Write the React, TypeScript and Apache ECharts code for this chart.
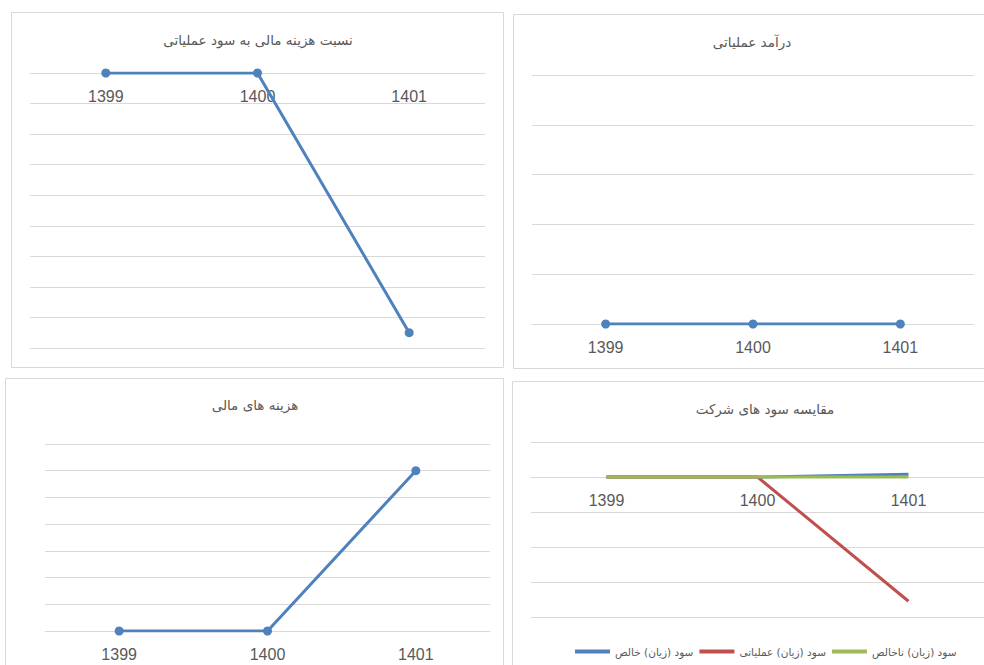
import React, { useEffect, useRef } from "react";
import * as echarts from "echarts";

const years = ["1399", "1400", "1401"];
const ratioFinCostToOpProfit = [0, 0, -0.85];
const operatingRevenue = [0, 0, 0];
const financialCosts = [0, 0, 6];
const netProfit = [0, 0, 0.08];
const operatingProfit = [0, 0, -3.55];
const grossProfit = [0, 0, 0];

const titles = [
  "نسبت هزینه مالی به سود عملیاتی",
  "درآمد عملیاتی",
  "هزینه های مالی",
  "مقایسه سود های شرکت",
];
const legendNames = ["سود (زیان) خالص", "سود (زیان) عملیاتی", "سود (زیان) ناخالص"];

const BLUE = "#4F81BD";
const RED = "#C0504D";
const GREEN = "#9BBB59";
const GRID_COLOR = "#D9D9D9";
const TEXT = "#595959";
const NUM_FONT = "'Liberation Sans', Arial, sans-serif";
const AR_FONT = "'DejaVu Sans', sans-serif";

export default function App() {
  const ref = useRef<HTMLDivElement>(null);
  useEffect(() => {
    if (!ref.current) return;
    const chart = echarts.init(ref.current, undefined, { renderer: "svg" });

    const H = 665;
    const grids = [
      { left: 30, right: 499, top: 73, bottom: 317 },
      { left: 532, right: 10, top: 75, bottom: 341 },
      { left: 45, right: 494, top: 444, bottom: 34 },
      { left: 531, right: -1, top: 442, bottom: 48 },
    ];
    const yRanges = [
      { min: -0.9, max: 0, interval: 0.1 },
      { min: 0, max: 1, interval: 0.2 },
      { min: 0, max: 7, interval: 1 },
      { min: -4, max: 1, interval: 1 },
    ];

    // place the category axis on the zero line of each panel (Excel style)
    const xAxis = grids.map((g, i) => {
      const r = yRanges[i];
      const gh = H - g.top - g.bottom;
      const zeroFrac = (0 - r.min) / (r.max - r.min);
      return {
        type: "category",
        gridIndex: i,
        data: years,
        boundaryGap: true,
        position: "bottom",
        offset: -zeroFrac * gh,
        axisLine: { show: true, onZero: false, lineStyle: { color: GRID_COLOR, width: 1 } },
        axisTick: { show: false },
        axisLabel: { color: TEXT, fontSize: 16, margin: 15, fontFamily: NUM_FONT },
      };
    });
    const yAxis = yRanges.map((r, i) => ({
      type: "value",
      gridIndex: i,
      min: r.min,
      max: r.max,
      interval: r.interval,
      axisLabel: { show: false },
      axisLine: { show: false },
      axisTick: { show: false },
      splitLine: { show: true, lineStyle: { color: GRID_COLOR, width: 1 } },
    }));

    const markerLine = (name: string, data: number[], idx: number) => ({
      type: "line",
      name,
      xAxisIndex: idx,
      yAxisIndex: idx,
      data,
      symbol: "circle",
      symbolSize: 9,
      showSymbol: true,
      lineStyle: { color: BLUE, width: 3 },
      itemStyle: { color: BLUE },
      z: 3,
    });
    const plainLine = (name: string, data: number[], color: string) => ({
      type: "line",
      name,
      xAxisIndex: 3,
      yAxisIndex: 3,
      data,
      symbol: "none",
      showSymbol: false,
      lineStyle: { color, width: 3 },
      itemStyle: { color },
      z: 3,
    });

    const panels = [
      { x: 11, y: 12, w: 492, h: 355 },
      { x: 513, y: 14, w: 490, h: 354 },
      { x: 5, y: 378, w: 498, h: 300 },
      { x: 512, y: 381, w: 490, h: 300 },
    ];
    const titlePos = [
      { x: 258, y: 40 },
      { x: 752, y: 42 },
      { x: 255, y: 405 },
      { x: 765, y: 409 },
    ];

    const graphic: any[] = [];
    panels.forEach((p) =>
      graphic.push({
        type: "rect",
        shape: { x: p.x + 0.5, y: p.y + 0.5, width: p.w, height: p.h },
        style: { fill: "none", stroke: GRID_COLOR, lineWidth: 1 },
        silent: true,
        z: -1,
      })
    );
    titlePos.forEach((t, i) =>
      graphic.push({
        type: "text",
        x: t.x,
        y: t.y,
        style: {
          text: titles[i],
          fill: TEXT,
          font: `13.5px ${AR_FONT}`,
          textAlign: "center",
          textVerticalAlign: "middle",
        },
        silent: true,
      })
    );

    chart.setOption({
      animation: false,
      backgroundColor: "#ffffff",
      grid: grids.map((g) => ({ ...g, containLabel: false })),
      xAxis,
      yAxis,
      legend: {
        data: legendNames,
        left: 570,
        top: 641,
        width: 412,
        icon: "rect",
        itemWidth: 35,
        itemHeight: 4,
        itemGap: 6,
        textStyle: { color: TEXT, fontSize: 10.5, fontFamily: AR_FONT },
      },
      graphic,
      series: [
        markerLine("نسبت هزینه مالی به سود عملیاتی", ratioFinCostToOpProfit, 0),
        markerLine("درآمد عملیاتی", operatingRevenue, 1),
        markerLine("هزینه های مالی", financialCosts, 2),
        plainLine(legendNames[0], netProfit, BLUE),
        plainLine(legendNames[1], operatingProfit, RED),
        plainLine(legendNames[2], grossProfit, GREEN),
      ],
    });
    return () => chart.dispose();
  }, []);
  return (
    <div
      ref={ref}
      style={{ position: "fixed", left: 0, top: 0, width: 984, height: 665, background: "#fff" }}
    />
  );
}
